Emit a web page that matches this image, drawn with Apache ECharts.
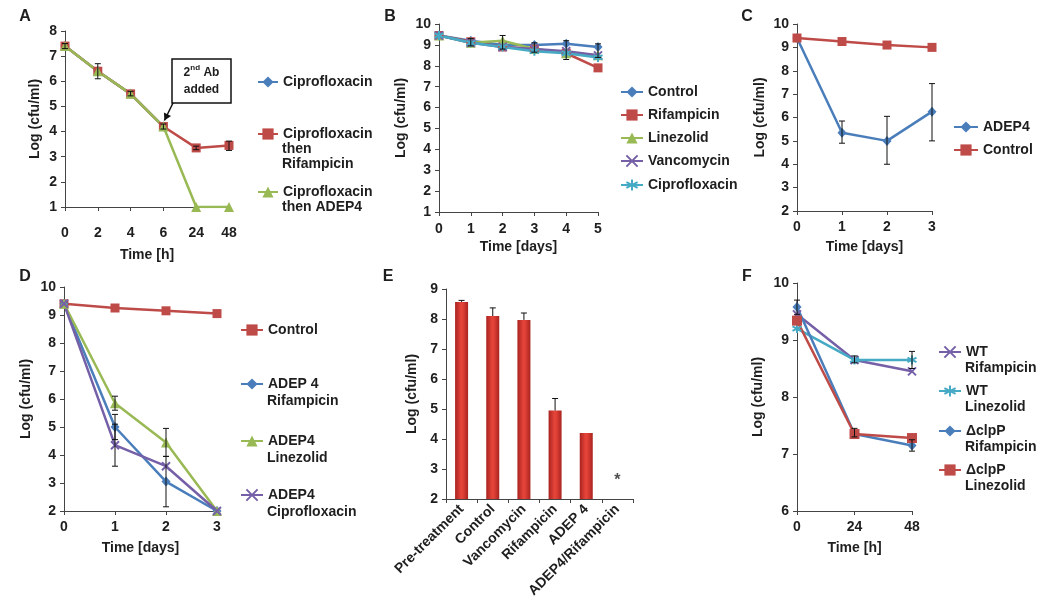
<!DOCTYPE html>
<html><head><meta charset="utf-8">
<script src="https://cdn.jsdelivr.net/npm/echarts@6/dist/echarts.min.js"></script>
<style>html,body{margin:0;padding:0;background:#fff}#c{width:1050px;height:607px}</style>
</head><body><div id="c"></div>
<script>
// ---------- DATA ----------
// Panel A
const aTimes = ['0','2','4','6','24','48'];
const aCipro = [7.4, 6.4, 5.5, 4.2, null, null];
const aCiproRif = [7.4, 6.4, 5.5, 4.2, 3.35, 3.45];
const aCiproAdep = [7.4, 6.4, 5.5, 4.2, 1, 1];
const aErr = [[0,7.3,7.5],[1,6.1,6.7],[2,5.42,5.6],[3,4.1,4.3],[4,3.28,3.42],[5,3.25,3.62]];
// Panel B
const bDays = ['0','1','2','3','4','5'];
const bControl = [9.45, 9.2, 9.0, 9.0, 9.05, 8.9];
const bRif = [9.45, 9.15, 8.9, 8.8, 8.6, 7.9];
const bLin = [9.45, 9.1, 9.2, 8.8, 8.6, 8.5];
const bVanc = [9.45, 9.1, 8.9, 8.8, 8.7, 8.5];
const bCipro = [9.45, 9.1, 8.9, 8.7, 8.6, 8.4];
const bErr = [[1,8.95,9.3],[2,8.8,9.45],[3,8.65,9.1],[4,8.3,9.2],[5,8.4,9.05]];
// Panel C
const cDays = ['0','1','2','3'];
const cAdep = [9.4, 5.35, 5.0, 6.25];
const cControl = [9.4, 9.25, 9.1, 9.0];
const cErr = [[1,4.9,5.85],[2,4.0,6.05],[3,5.0,7.45]];
// Panel D
const dDays = ['0','1','2','3'];
const dControl = [9.4, 9.25, 9.15, 9.05];
const dAdepRif = [9.4, 5.0, 3.05, 2.0];
const dAdepLin = [9.4, 5.85, 4.45, 2.0];
const dAdepCipro = [9.4, 4.35, 3.6, 2.0];
const dErr = [[1,3.6,5.1],[1,4.55,5.45],[1,5.6,6.1],[2,2.15,3.95],[2,3.95,4.95]];
// Panel E
const eCats = ['Pre-treatment','Control','Vancomycin','Rifampicin','ADEP 4','ADEP4/Rifampicin'];
const eValues = [8.57, 8.1, 7.97, 4.95, 4.2, null];
const eErrTop = [8.62, 8.37, 8.2, 5.35, null, null];
const eStar = [[5, 2.6]];
// Panel F
const fTimes = ['0','24','48'];
const fWtRif = [9.45, 8.65, 8.45];
const fWtLin = [9.2, 8.65, 8.65];
const fClpRif = [9.58, 7.35, 7.15];
const fClpLin = [9.34, 7.35, 7.28];
const fErr = [[0,9.45,9.7],[1,8.6,8.72],[1,7.3,7.45],[2,8.5,8.8],[2,7.05,7.25]];

// ---------- STYLE ----------
const FF = 'Liberation Sans, Arial, sans-serif';
const TXT = '#1e1e1e';
const BLUE = '#4a7ebb', RED = '#be4b48', GREEN = '#98b954', PURPLE = '#7560a8', CYAN = '#46aac5';
const SYM = {
  diamond: 'diamond', square: 'rect', triangle: 'triangle',
  x: 'path://M0,0 L10,10 M10,0 L0,10',
  star: 'path://M5,0 L5,10 M0,2.5 L10,7.5 M0,7.5 L10,2.5'
};

const chart = echarts.init(document.getElementById('c'), null, {renderer: 'canvas'});

const grids = [
  {left:65, top:31, width:164, height:176},   // A
  {left:439, top:24, width:159, height:188},  // B
  {left:797, top:24, width:135, height:187},  // C
  {left:64, top:287, width:153, height:224},  // D
  {left:446, top:289, width:187, height:210}, // E
  {left:797, top:283, width:115, height:228}  // F
];

const axisLineStyle = {show:true, lineStyle:{color:'#444', width:1}};
const labelStyle = {color:TXT, fontSize:14, fontWeight:'bold', fontFamily:FF};
function xCat(i, data, name, margin, gap, extra) {
  return Object.assign({
    type:'category', gridIndex:i, data, boundaryGap:false,
    axisLine:axisLineStyle, axisTick:{show:true, alignWithLabel:true, length:4, lineStyle:{color:'#444'}},
    axisLabel:Object.assign({margin, interval:0}, labelStyle),
    name, nameLocation:'middle', nameGap:gap, nameTextStyle:labelStyle,
    splitLine:{show:false}
  }, extra || {});
}
function yVal(i, min, max, gap) {
  return {
    type:'value', gridIndex:i, min, max, interval:1,
    axisLine:axisLineStyle, axisTick:{show:true, length:4, lineStyle:{color:'#444'}},
    axisLabel:Object.assign({margin:8}, labelStyle),
    name:'Log (cfu/ml)', nameLocation:'middle', nameGap:gap, nameRotate:90, nameTextStyle:labelStyle,
    splitLine:{show:false}
  };
}

function line(key, data, color, sym, gi, size) {
  const stroke = (sym === 'x' || sym === 'star');
  return {
    type:'line', name:key, data, xAxisIndex:gi, yAxisIndex:gi,
    symbol:SYM[sym], symbolSize: size || (sym === 'diamond' ? [9,10] : 9),
    lineStyle:{color, width:2.5}, showAllSymbol:true,
    itemStyle:{color, borderColor:color, borderWidth: stroke ? 2 : 0},
    emphasis:{disabled:true}, silent:true, z:3, connectNulls:false
  };
}

function errRender(params, api) {
  const x = api.value(0), lo = api.value(1), hi = api.value(2);
  const lowCap = api.value(3) !== 0;
  const p1 = api.coord([x, lo]), p2 = api.coord([x, hi]);
  const w = 3;
  const st = {stroke:'#111', lineWidth:1};
  const ch = [
    {type:'line', shape:{x1:p1[0], y1:p1[1], x2:p2[0], y2:p2[1]}, style:st},
    {type:'line', shape:{x1:p2[0]-w, y1:p2[1], x2:p2[0]+w, y2:p2[1]}, style:st}
  ];
  if (lowCap) ch.push({type:'line', shape:{x1:p1[0]-w, y1:p1[1], x2:p1[0]+w, y2:p1[1]}, style:st});
  return {type:'group', children:ch};
}
function errSeries(gi, data) {
  return {type:'custom', xAxisIndex:gi, yAxisIndex:gi, data, renderItem:errRender,
    encode:{x:0, y:[1,2]}, z:5, silent:true};
}

// legends
const legends = [];
const extraText = [];
const labelMap = {};
function leg(key, lines, iconLeft, y, lh, iw) {
  labelMap[key] = lines[0];
  legends.push({
    data:[key], left:iconLeft, top:y-8, padding:0, itemWidth:iw, itemHeight:14,
    selectedMode:false, formatter:(n) => labelMap[n],
    textStyle:{color:TXT, fontSize:14, fontWeight:'bold', fontFamily:FF}
  });
  for (let k = 1; k < lines.length; k++) {
    extraText.push({type:'text', x:iconLeft+iw+5, y:y + k*lh, silent:true,
      style:{text:lines[k], fill:TXT, fontSize:14, fontWeight:'bold', fontFamily:FF, verticalAlign:'middle'}});
  }
}

// Panel A
leg('A|Cipro', ['Ciprofloxacin'], 257, 83, 14.5, 20);
leg('A|CiproRif', ['Ciprofloxacin','then','Rifampicin'], 257, 135, 14.5, 20);
leg('A|CiproAdep', ['Ciprofloxacin','then ADEP4'], 257, 193, 14, 20);
// Panel B
leg('B|Control', ['Control'], 620, 93, 15, 22);
leg('B|Rif', ['Rifampicin'], 620, 116, 15, 22);
leg('B|Lin', ['Linezolid'], 620, 139, 15, 22);
leg('B|Vanc', ['Vancomycin'], 620, 162, 15, 22);
leg('B|Cipro', ['Ciprofloxacin'], 620, 186, 15, 22);
// Panel C
leg('C|Adep', ['ADEP4'], 953, 128, 15, 24);
leg('C|Control', ['Control'], 953, 151, 15, 24);
// Panel D
leg('D|Control', ['Control'], 240, 331, 16, 22);
leg('D|AdepRif', ['ADEP 4','Rifampicin'], 240, 385, 16, 22);
leg('D|AdepLin', ['ADEP4','Linezolid'], 240, 442, 16, 22);
leg('D|AdepCipro', ['ADEP4','Ciprofloxacin'], 240, 496, 16, 22);
// Panel F
leg('F|WtRif', ['WT','Rifampicin'], 938, 353, 15, 22);
leg('F|WtLin', ['WT','Linezolid'], 938, 392, 15, 22);
leg('F|ClpRif', ['\u0394clpP','Rifampicin'], 938, 432, 15, 22);
leg('F|ClpLin', ['\u0394clpP','Linezolid'], 938, 471, 15, 22);

const letters = [['A',25,17],['B',390,17],['C',747,17],['D',25,277],['E',388,277],['F',747,277]].map(l => ({
  type:'text', x:l[1], y:l[2], silent:true,
  style:{text:l[0], fill:TXT, fontSize:16, fontWeight:'bold', fontFamily:FF, align:'center', verticalAlign:'middle'}
}));

const eBarColor = new echarts.graphic.LinearGradient(0,0,1,0,[
  {offset:0, color:'#a8231f'}, {offset:0.45, color:'#e5443a'}, {offset:0.6, color:'#e04036'}, {offset:1, color:'#a8231f'}
]);

const option = {
  animation:false,
  backgroundColor:'#fff',
  grid:grids,
  xAxis:[
    xCat(0, aTimes, 'Time [h]', 19, 41),
    xCat(1, bDays, 'Time [days]', 10, 28),
    xCat(2, cDays, 'Time [days]', 9, 29),
    xCat(3, dDays, 'Time [days]', 9, 30),
    xCat(4, eCats, '', 8, 0, {boundaryGap:true, axisTick:{show:true, alignWithLabel:false, length:4, lineStyle:{color:'#444'}},
      axisLabel:Object.assign({margin:8, interval:0, rotate:45}, labelStyle)}),
    xCat(5, fTimes, 'Time [h]', 9, 30)
  ],
  yAxis:[
    yVal(0, 1, 8, 23),
    yVal(1, 1, 10, 31),
    yVal(2, 2, 10, 30),
    yVal(3, 2, 10, 31),
    yVal(4, 2, 9, 27),
    yVal(5, 6, 10, 32)
  ],
  legend:legends,
  series:[
    // A
    line('A|Cipro', aCipro, BLUE, 'diamond', 0),
    line('A|CiproRif', aCiproRif, RED, 'square', 0),
    line('A|CiproAdep', aCiproAdep, GREEN, 'triangle', 0, 10),
    errSeries(0, aErr),
    // B
    line('B|Control', bControl, BLUE, 'diamond', 1),
    line('B|Rif', bRif, RED, 'square', 1),
    line('B|Lin', bLin, GREEN, 'triangle', 1, 10),
    line('B|Vanc', bVanc, PURPLE, 'x', 1, 8),
    line('B|Cipro', bCipro, CYAN, 'star', 1, 9),
    errSeries(1, bErr),
    // C
    line('C|Adep', cAdep, BLUE, 'diamond', 2),
    line('C|Control', cControl, RED, 'square', 2),
    errSeries(2, cErr),
    // D
    line('D|Control', dControl, RED, 'square', 3),
    line('D|AdepRif', dAdepRif, BLUE, 'diamond', 3),
    line('D|AdepLin', dAdepLin, GREEN, 'triangle', 3, 10),
    line('D|AdepCipro', dAdepCipro, PURPLE, 'x', 3, 8),
    errSeries(3, dErr),
    // E
    {type:'bar', name:'E|values', data:eValues, xAxisIndex:4, yAxisIndex:4, barWidth:13,
      itemStyle:{color:eBarColor}, silent:true, z:2},
    errSeries(4, eValues.map((v,i) => (v != null && eErrTop[i] != null) ? [i, v, eErrTop[i], 0] : null).filter(Boolean)),
    {type:'scatter', name:'E|star', data:eStar, xAxisIndex:4, yAxisIndex:4, symbol:'circle', symbolSize:1,
      itemStyle:{color:'rgba(0,0,0,0)'}, silent:true,
      label:{show:true, formatter:'*', position:'inside', color:'#222', fontSize:16, fontWeight:'bold', fontFamily:FF}},
    // F
    line('F|WtRif', fWtRif, PURPLE, 'x', 5, 8),
    line('F|WtLin', fWtLin, CYAN, 'star', 5, 9),
    line('F|ClpRif', fClpRif, BLUE, 'diamond', 5),
    line('F|ClpLin', fClpLin, RED, 'square', 5, 10),
    errSeries(5, fErr)
  ],
  graphic:[]
};
chart.setOption(option);

// annotation in panel A, arrow pointing to the 6 h point
const tip = chart.convertToPixel({xAxisIndex:0, yAxisIndex:0}, [3, aCiproRif[3]]);
const box = {x:172, y:59, w:59, h:44};
const ann = [
  {type:'rect', shape:{x:box.x, y:box.y, width:box.w, height:box.h}, style:{fill:'#fff', stroke:'#111', lineWidth:1.5}, silent:true, z:10},
  {type:'text', x:box.x + box.w/2, y:box.y + box.h/2, silent:true, z:11,
    style:{text:'{a|2}{s|nd}{a| Ab}\n{a|added}', align:'center', verticalAlign:'middle',
      rich:{a:{fontSize:12, fontWeight:'bold', fontFamily:FF, fill:TXT, lineHeight:17},
            s:{fontSize:8, fontWeight:'bold', fontFamily:FF, fill:TXT, verticalAlign:'top', lineHeight:17}}}},
  {type:'line', shape:{x1:box.x+1, y1:box.y+box.h, x2:tip[0]+1, y2:tip[1]-6}, style:{stroke:'#111', lineWidth:1.5}, silent:true, z:10},
  {type:'polygon', silent:true, z:10, shape:{points:(function(){
    const x1 = box.x+1, y1 = box.y+box.h, x2 = tip[0]+1, y2 = tip[1]-6;
    const ang = Math.atan2(y2-y1, x2-x1), L = 7, W = 4;
    const bx = x2 - L*Math.cos(ang), by = y2 - L*Math.sin(ang);
    return [[x2,y2],[bx - W*Math.sin(ang), by + W*Math.cos(ang)],[bx + W*Math.sin(ang), by - W*Math.cos(ang)]];
  })()}, style:{fill:'#111'}}
];
chart.setOption({graphic: letters.concat(extraText, ann)});
</script>
</body></html>
